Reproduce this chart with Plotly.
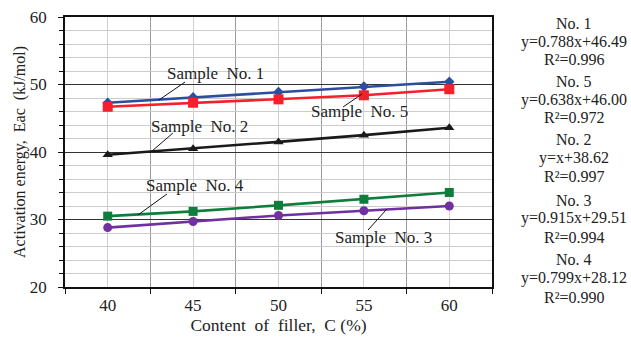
import plotly.graph_objects as go

# ---- data ----
content = [40, 45, 50, 55, 60]
sample1 = [47.3, 48.1, 48.9, 49.7, 50.4]
sample5 = [46.7, 47.3, 47.8, 48.4, 49.3]
sample2 = [39.6, 40.5, 41.5, 42.5, 43.6]
sample4 = [30.5, 31.2, 32.1, 33.0, 34.0]
sample3 = [28.8, 29.7, 30.6, 31.3, 32.0]

series_names = ["Sample No. 1", "Sample No. 5", "Sample No. 2", "Sample No. 4", "Sample No. 3"]
series_values = [sample1, sample5, sample2, sample4, sample3]
series_colors = ["#2a4f9f", "#f5202a", "#1a1a1a", "#0f7d3c", "#7030a0"]
series_symbols = ["diamond", "square", "triangle-up", "square", "circle"]
series_sizes = [8, 10, 9, 9, 9]

# label text positions and leader lines (data coordinates)
label_pos = [(46.34, 51.7), (54.77, 45.93), (45.40, 43.85), (45.11, 35.11), (56.12, 27.26)]
leader_lines = [((43.0, 47.7), (44.53, 50.37)),
                ((53.78, 46.67), (54.89, 48.59)),
                ((42.53, 40.0), (43.82, 42.81)),
                ((41.77, 30.67), (43.47, 33.78)),
                ((55.24, 28.44), (56.35, 31.56))]

eq_names = ["No. 1", "No. 5", "No. 2", "No. 3", "No. 4"]
eq_formulas = ["y=0.788x+46.49", "y=0.638x+46.00", "y=x+38.62", "y=0.915x+29.51", "y=0.799x+28.12"]
eq_r2 = ["R²=0.996", "R²=0.972", "R²=0.997", "R²=0.994", "R²=0.990"]

FONT = "Liberation Serif"

fig = go.Figure()
for name, vals, col, sym, sz in zip(series_names, series_values, series_colors, series_symbols, series_sizes):
    fig.add_trace(go.Scatter(x=content, y=vals, mode="lines+markers", name=name,
                             line=dict(color=col, width=2.6),
                             marker=dict(symbol=sym, size=sz, color=col),
                             showlegend=False))

for (tx, ty), ((x0, y0), (x1, y1)), name in zip(label_pos, leader_lines, series_names):
    fig.add_annotation(x=tx, y=ty, xref="x", yref="y", text=name.replace(" No.", "  No."),
                       showarrow=False, font=dict(family=FONT, size=17, color="#222"))
    fig.add_shape(type="line", xref="x", yref="y", x0=x0, y0=y0, x1=x1, y1=y1,
                  line=dict(color="#111", width=1))

# right-hand equation texts (paper coordinates from pixel rows)
row_px = [(23.5, 41.5, 59), (82, 99.5, 117), (139.5, 158, 176), (200, 218, 237), (259, 278, 297)]
def py(p):
    return (287 - p) / 270.0
for n, f, r, rows in zip(eq_names, eq_formulas, eq_r2, row_px):
    for txt, p in zip((n, f, r), rows):
        fig.add_annotation(x=(574 - 65) / 427.0, y=py(p), xref="paper", yref="paper",
                           text=txt, showarrow=False, xanchor="center", yanchor="middle",
                           font=dict(family=FONT, size=16, color="#222"))

fig.update_layout(
    width=631, height=338,
    margin=dict(l=65, r=139, t=17, b=51),
    paper_bgcolor="white", plot_bgcolor="white",
    font=dict(family=FONT, size=17, color="#222"),
    xaxis=dict(range=[37.5, 62.5], tickvals=content, ticktext=[str(c) for c in content],
               ticks="", ticklen=0, showgrid=True, gridcolor="#d0d0d0", gridwidth=1.2,
               showline=True, linecolor="#111", linewidth=1.5, mirror=True, zeroline=False,
               minor=dict(tick0=37.5, dtick=5, ticks="outside", ticklen=5, tickcolor="#111",
                          showgrid=True, gridcolor="#9a9a9a", gridwidth=1),
               tickfont=dict(size=17), ticklabelstandoff=2,
               title=dict(text="Content  of  filler,  C (%)", font=dict(size=17.5), standoff=3),
               automargin=False),
    yaxis=dict(range=[20, 60], tickvals=[20, 30, 40, 50, 60], ticks="outside", ticklen=5,
               tickcolor="#111", showgrid=True, gridcolor="#333", gridwidth=1,
               showline=True, linecolor="#111", linewidth=1.5, mirror=True, zeroline=False,
               minor=dict(dtick=2, tick0=20, ticks="outside", ticklen=4, tickcolor="#111",
                          showgrid=True, gridcolor="#cccccc", gridwidth=1),
               tickfont=dict(size=17), ticklabelstandoff=8,
               title=dict(text="Activation energy,  Eac  (kJ/mol)", font=dict(size=16), standoff=0),
               automargin=False),
)

fig.write_html("out.html", config={"displayModeBar": False},
               post_script="document.body.style.margin='0';document.body.style.overflow='hidden';")
